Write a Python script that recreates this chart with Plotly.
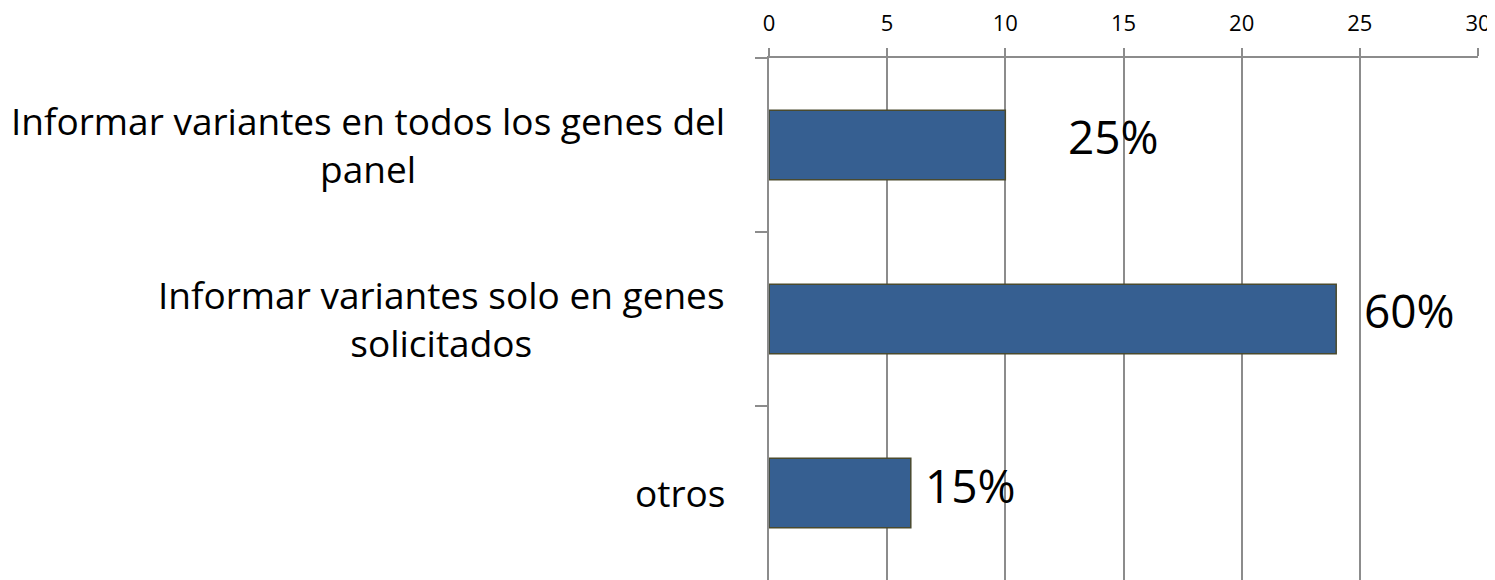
import plotly.graph_objects as go

categories = [
    "Informar variantes en todos los genes del<br>panel",
    "Informar variantes solo en genes<br>solicitados",
    "otros",
]
values = [10, 24, 6]
pct_labels = ["25%", "60%", "15%"]
x_ticks = [0, 5, 10, 15, 20, 25, 30]

# pixel offsets of the free-floating percent labels (style, not data)
label_xshift = [61, 26, 12]
label_yshift = [9, 9, 8]

FONT = "Open Sans"
GRID = "#8C8C8C"
PAGE_OFFSET = 8  # default body margin of the written html page

fig = go.Figure()
fig.add_trace(go.Bar(
    x=values,
    y=categories,
    orientation="h",
    width=0.4,
    marker=dict(color="#365F91", line=dict(color="#4A4A2E", width=1.5)),
    hoverinfo="skip",
))

annotations = []
for cat in categories:
    annotations.append(dict(
        x=0, xref="paper", xshift=-42,
        y=cat, yref="y", yshift=1,
        text=cat, showarrow=False,
        xanchor="right", yanchor="middle", align="center",
        font=dict(family=FONT, size=37, color="black"),
    ))
for cat, v, lab, dx, dy in zip(categories, values, pct_labels, label_xshift, label_yshift):
    annotations.append(dict(
        x=v, xref="x", y=cat, yref="y",
        xshift=dx, yshift=dy,
        text=lab, showarrow=False,
        xanchor="left", yanchor="middle",
        font=dict(family=FONT, size=46, color="black"),
    ))

fig.update_layout(
    width=1495 - PAGE_OFFSET, height=580 - PAGE_OFFSET,
    margin=dict(l=769 - PAGE_OFFSET, r=17, t=58 - PAGE_OFFSET, b=0, pad=0, autoexpand=False),
    paper_bgcolor="white", plot_bgcolor="white",
    showlegend=False,
    annotations=annotations,
    xaxis=dict(
        side="top",
        range=[0, 30],
        tickvals=x_ticks,
        ticktext=[str(t) for t in x_ticks],
        showgrid=True, gridcolor=GRID, gridwidth=1.5,
        showline=True, linecolor=GRID, linewidth=1.5,
        ticks="outside", ticklen=8, tickcolor=GRID, tickwidth=1.5,
        tickfont=dict(family=FONT, size=22, color="black"),
        ticklabelstandoff=8,
        zeroline=False,
        automargin=False,
        fixedrange=True,
    ),
    yaxis=dict(
        type="category",
        categoryorder="array",
        categoryarray=categories,
        autorange="reversed",
        showticklabels=False,
        tickson="boundaries",
        ticks="outside", ticklen=12, tickcolor=GRID, tickwidth=1.5,
        showline=True, linecolor=GRID, linewidth=1.5,
        showgrid=False,
        zeroline=False,
        automargin=False,
        fixedrange=True,
    ),
)

fig.write_html("out.html")
